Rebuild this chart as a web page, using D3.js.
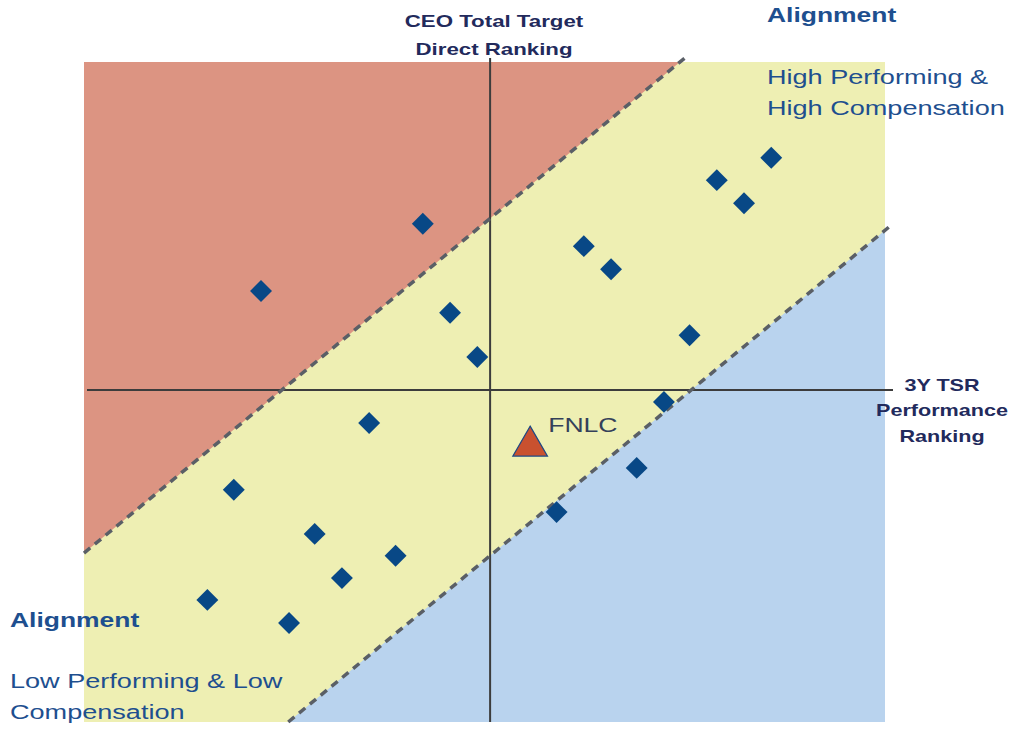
<!DOCTYPE html>
<html>
<head>
<meta charset="utf-8">
<script src="https://cdn.jsdelivr.net/npm/d3@7"></script>
<style>
  html, body { margin: 0; padding: 0; background: #fff; }
  svg { display: block; }
</style>
</head>
<body>
<div id="app"></div>
<script>
// peer companies: 3Y TSR rank (x) vs CEO pay rank (y), both 0..100
const peerTsr = [22.1, 42.3, 45.7, 49.1, 62.4, 65.8, 79.0, 82.4, 85.8, 75.6, 72.4, 69.0, 59.0, 35.6, 18.7, 28.8, 32.2, 38.9, 15.4, 25.6];
const peerPay = [65.3, 75.5, 62.0, 55.3, 72.1, 68.6, 82.1, 78.6, 85.5, 58.6, 48.5, 38.5, 31.8, 45.3, 35.2, 28.5, 21.8, 25.2, 18.5, 15.0];
const companyName = 'FNLC';
const companyTsr = 55.7;
const companyPay = 41.8;
// alignment band: pay = tsr +/- bandOffset
const bandOffset = [25.6, -25.5];
const crossAt = [50.7, 50.3];

const width = 1019, height = 733;
const plot = { left: 84, right: 885, top: 62, bottom: 722 };

const x = d3.scaleLinear().domain([0, 100]).range([plot.left, plot.right]);
const y = d3.scaleLinear().domain([0, 100]).range([plot.bottom, plot.top]);

const svg = d3.select('#app').append('svg')
    .attr('width', width)
    .attr('height', height)
    .attr('font-family', 'Liberation Sans, Arial, sans-serif');

// background (alignment band colour)
svg.append('rect')
    .attr('x', x(0)).attr('y', y(100))
    .attr('width', x(100) - x(0)).attr('height', y(0) - y(100))
    .attr('fill', '#eeefb3');

const line = d3.line().x(d => x(d[0])).y(d => y(d[1]));

// over-paid area (above upper line)
const up = bandOffset[0];
svg.append('path')
    .attr('d', line([[0, up], [0, 100], [100 - up, 100]]) + 'Z')
    .attr('fill', '#dc9482');

// under-paid area (below lower line)
const lo = bandOffset[1];
svg.append('path')
    .attr('d', line([[-lo, 0], [100, 0], [100, 100 + lo]]) + 'Z')
    .attr('fill', '#b9d3ee');

// axes crossing in the middle
svg.append('line')
    .attr('x1', x(crossAt[0])).attr('x2', x(crossAt[0]))
    .attr('y1', y(100) - 4).attr('y2', y(0))
    .attr('stroke', '#3c3c3c').attr('stroke-width', 2);
svg.append('line')
    .attr('x1', x(0) + 3).attr('x2', x(100) + 8)
    .attr('y1', y(crossAt[1])).attr('y2', y(crossAt[1]))
    .attr('stroke', '#3c3c3c').attr('stroke-width', 2);

// dashed band borders
const ext = 0.7;
svg.append('path')
    .attr('d', line([[0, up], [100 - up + ext, 100 + ext]]))
    .attr('stroke', '#5a5f66').attr('stroke-width', 3.5)
    .attr('stroke-dasharray', '8,6').attr('fill', 'none');
svg.append('path')
    .attr('d', line([[-lo, 0], [100 + ext, 100 + lo + ext]]))
    .attr('stroke', '#5a5f66').attr('stroke-width', 3.5)
    .attr('stroke-dasharray', '8,6').attr('fill', 'none');

// peers
const peers = peerTsr.map((t, i) => ({ t, p: peerPay[i] }));
svg.append('g').selectAll('path')
    .data(peers)
    .join('path')
    .attr('transform', d => `translate(${x(d.t)},${y(d.p)}) rotate(45)`)
    .attr('d', d3.symbol(d3.symbolSquare, 240)())
    .attr('fill', '#084886');

// company
svg.append('path')
    .attr('transform', `translate(${x(companyTsr)},${y(companyPay)})`)
    .attr('d', d3.symbol(d3.symbolTriangle, 520)())
    .attr('fill', '#c9512f')
    .attr('stroke', '#1d4a86').attr('stroke-width', 1.2);

// labels - the source image is stretched sideways, so scale text horizontally
const addText = (lines, opts) => {
    const g = svg.append('g')
        .attr('transform', `translate(${opts.x},${opts.y}) scale(${opts.sx},1)`);
    const t = g.append('text')
        .attr('font-size', opts.size)
        .attr('font-weight', opts.bold ? 'bold' : 'normal')
        .attr('fill', opts.color)
        .attr('text-anchor', opts.anchor || 'start');
    lines.forEach((s, i) => {
        t.append('tspan').attr('x', 0).attr('y', i * opts.lh).text(s);
    });
};

addText([companyName], { x: x(companyTsr) + 18, y: y(companyPay) - 14, lh: 0, size: 20, sx: 1.33, color: '#34405a' });
addText(['CEO Total Target', 'Direct Ranking'], { x: 494, y: 27, lh: 28, size: 17, sx: 1.31, bold: true, color: '#222a5c', anchor: 'middle' });
addText(['3Y TSR', 'Performance', 'Ranking'], { x: 942, y: 391, lh: 25.5, size: 16, sx: 1.35, bold: true, color: '#222a5c', anchor: 'middle' });
addText(['Alignment'], { x: 767, y: 22, lh: 0, size: 21, sx: 1.26, bold: true, color: '#1e4f8f' });
addText(['High Performing &', 'High Compensation'], { x: 767, y: 84, lh: 31, size: 21, sx: 1.29, color: '#1e4f8f' });
addText(['Alignment'], { x: 10, y: 627, lh: 0, size: 21, sx: 1.26, bold: true, color: '#1e4f8f' });
addText(['Low Performing & Low', 'Compensation'], { x: 10, y: 688, lh: 31, size: 21, sx: 1.29, color: '#1e4f8f' });
</script>
</body>
</html>
